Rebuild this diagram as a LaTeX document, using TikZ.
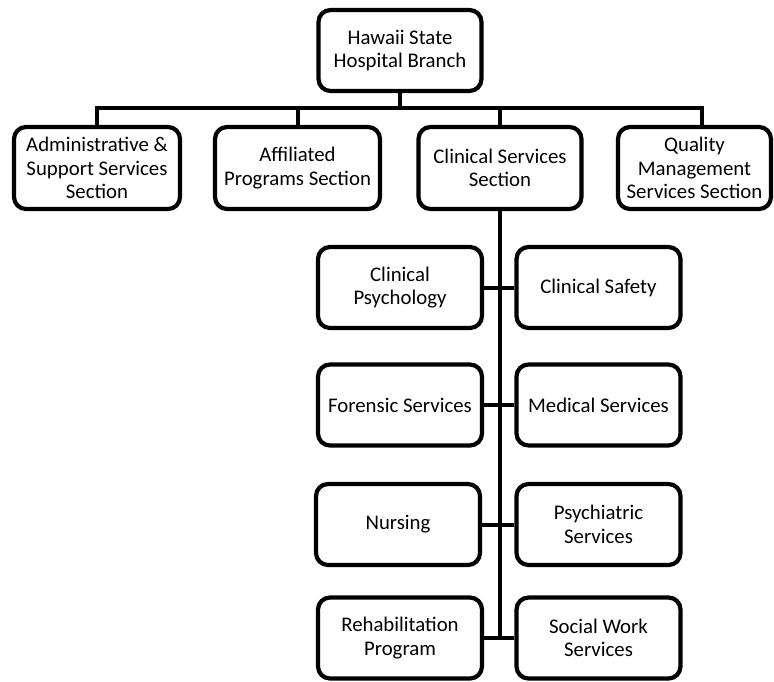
\documentclass[tikz,border=0pt]{standalone}
\usepackage{fontspec}
\setmainfont{Carlito}
\begin{document}
\begin{tikzpicture}[x=1pt,y=-1pt,
  box/.style={draw=black, line width=4.2pt, rounded corners=12pt, fill=white,
    align=center, inner sep=1pt, font=\fontsize{20.8}{23.5}\selectfont},
  wbox/.style={box, minimum width=164pt, minimum height=81pt},
  link/.style={draw=black, line width=4pt}]
\useasboundingbox (0,0) rectangle (774,681);
% top
\node[box, minimum width=163pt, minimum height=81pt] (top) at (400,50.5) {Hawaii State\\Hospital Branch};
% sections
\node[box, minimum width=166pt, minimum height=82pt] (admin) at (97,168) {Administrative \&\\Support Services\\Section};
\node[box, minimum width=165pt, minimum height=82pt] (aff) at (297.5,168) {Affiliated\\Programs Section};
\node[box, minimum width=163pt, minimum height=82pt] (clin) at (500,168) {Clinical Services\\Section};
\node[box, minimum width=153pt, minimum height=82pt] (qual) at (694.5,168) {Quality\\Management\\Services Section};
% clinical units
\node[wbox] (cpsy) at (400,287.5) {Clinical\\Psychology};
\node[wbox] (csaf) at (598.5,287.5) {Clinical Safety};
\node[wbox] (fore) at (400,405) {Forensic Services};
\node[wbox] (med) at (598.5,405) {Medical Services};
\node[wbox] (nurs) at (398,524.5) {Nursing};
\node[wbox] (psyc) at (598.5,524.5) {Psychiatric\\Services};
\node[wbox] (rehab) at (400,638) {Rehabilitation\\Program};
\node[wbox] (soc) at (598.5,638) {Social Work\\Services};
% bus
\coordinate (busL) at (97,108);
\coordinate (busR) at (702,108);
\draw[link] (top.south) -- (top.south |- busL);
\draw[link, line cap=rect] (admin.north) -- (busL) -- (busR);
\draw[link] (busR) -- (busR |- qual.north);
\draw[link] (aff.north) -- (aff.north |- busL);
\draw[link] (clin.north) -- (clin.north |- busL);
% trunk
\draw[link] (clin.south) -- (clin.south |- rehab.east);
\draw[link] (cpsy.east) -- (csaf.west);
\draw[link] (fore.east) -- (med.west);
\draw[link] (nurs.east) -- (psyc.west);
\draw[link] (rehab.east) -- (soc.west);
\end{tikzpicture}
\end{document}
